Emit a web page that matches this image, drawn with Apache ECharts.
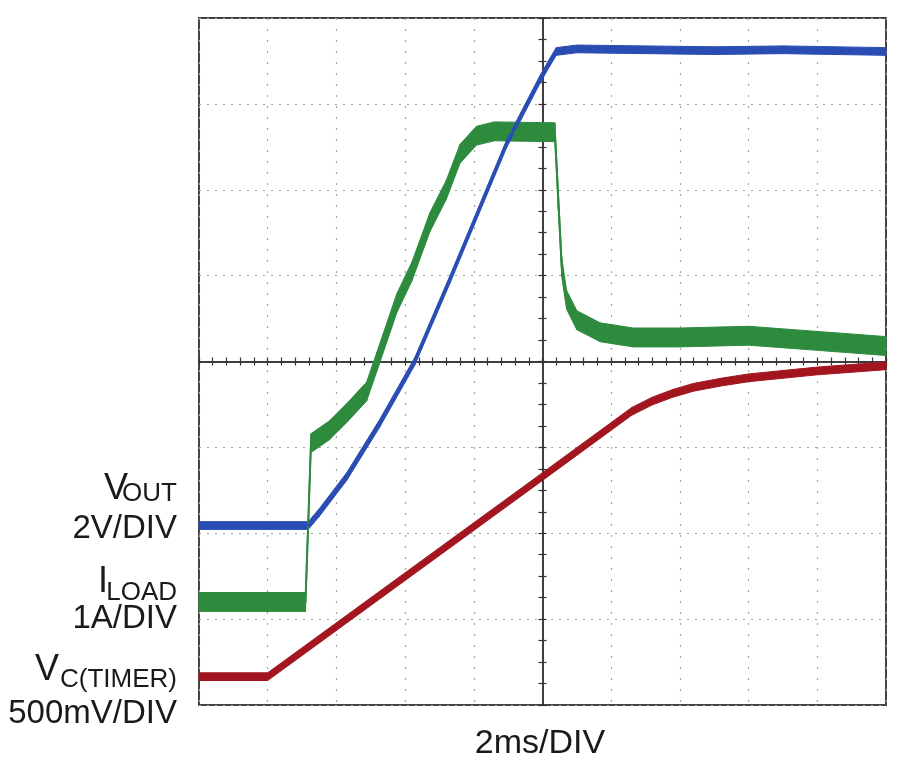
<!DOCTYPE html>
<html>
<head>
<meta charset="utf-8">
<script src="https://cdn.jsdelivr.net/npm/echarts@6/dist/echarts.min.js"></script>
<style>
  html, body { margin: 0; padding: 0; background: #fff; }
  #chart { width: 900px; height: 783px; }
</style>
</head>
<body>
<div id="chart"></div>
<script>
// time in ms (2ms/DIV, trigger at centre), amplitude in divisions from centre
var voutTime = [-10, -6.82, -6.5, -5.7, -4.74, -3.72, -2.7, -1.04, -0.08, 0.22, 0.4, 1.0, 3, 5, 7, 10];
var voutDiv  = [-1.91, -1.91, -1.76, -1.34, -0.72, 0, 0.95, 2.54, 3.28, 3.49, 3.61, 3.64, 3.63, 3.62, 3.63, 3.61];

var iloadTime = [-10, -6.9, -6.74, -6.2, -5.7, -5.12, -4.82, -4.24, -3.8, -3.28, -2.8, -2.4, -1.92, -1.4, 0.36, 0.46, 0.56, 0.7, 1.0, 1.68, 2.64, 4, 6, 8, 10];
var iloadDiv  = [-2.80, -2.80, -0.95, -0.80, -0.60, -0.35, 0.0, 0.68, 1.05, 1.62, 2.0, 2.42, 2.63, 2.68, 2.67, 1.88, 1.10, 0.72, 0.48, 0.34, 0.28, 0.28, 0.30, 0.24, 0.18];

var vcTime = [-10, -8, 0, 2.6, 3.2, 3.8, 4.4, 5.2, 6, 7, 8, 9, 10];
var vcDiv  = [-3.67, -3.67, -1.34, -0.58, -0.46, -0.37, -0.30, -0.24, -0.19, -0.15, -0.11, -0.08, -0.05];

// trace thickness (noise) in divisions, peak to centre
var voutNoise = 0.045;
var iloadNoise = 0.11;
var vcNoise = 0.045;

var BLUE = '#2a4db3';
var GREEN = '#2e8b3e';
var RED = '#a3161f';

function pairs(xs, ys) {
  return xs.map(function (x, i) { return [x, ys[i]]; });
}

// a noisy trace: a band of +-noise around the points, then a thin centre line
function trace(name, xs, ys, noise, color) {
  return [{
    type: 'custom', name: name + ' band', data: pairs(xs, ys), silent: true,
    encode: { x: 0, y: 1 },
    renderItem: function (params, api) {
      var i = params.dataIndex;
      if (i >= xs.length - 1) return null;
      var pts = [
        api.coord([xs[i], ys[i] - noise]),
        api.coord([xs[i + 1], ys[i + 1] - noise]),
        api.coord([xs[i + 1], ys[i + 1] + noise]),
        api.coord([xs[i], ys[i] + noise])
      ];
      return {
        type: 'polygon', shape: { points: pts },
        style: { fill: color, stroke: color, lineWidth: 1 }
      };
    }
  }, {
    type: 'line', name: name, data: pairs(xs, ys), showSymbol: false, silent: true,
    lineStyle: { color: color, width: 2 }
  }];
}

function label(text, x, baseline, size, align) {
  return {
    type: 'text', x: x, y: baseline - size * 0.35,
    style: {
      text: text, fill: '#1a1a1a', align: align || 'right', verticalAlign: 'middle',
      fontSize: size, fontFamily: '"Liberation Sans", Arial, sans-serif'
    }
  };
}

var chart = echarts.init(document.getElementById('chart'));

var centreAxis = function (inside, minor) {
  return {
    axisLine: { show: true, onZero: true, onZeroAxisIndex: 0, lineStyle: { color: '#333', width: 1.5 } },
    axisTick: { show: true, inside: inside, length: 4, lineStyle: { color: '#333', width: 1.2 } },
    minorTick: { show: true, splitNumber: minor, length: 4, lineStyle: { color: '#333', width: 1.2 } },
    axisLabel: { show: false },
    splitLine: { show: false }
  };
};

var xBase = { type: 'value', min: -10, max: 10, interval: 2 };
var yBase = { type: 'value', min: -4, max: 4, interval: 1 };

var option = {
  backgroundColor: '#ffffff',
  animation: false,
  grid: {
    left: 199, top: 18, right: 14, bottom: 78,
    show: true, borderColor: '#444', borderWidth: 2, backgroundColor: 'transparent'
  },
  xAxis: [
    Object.assign({}, xBase, {
      axisLine: { show: false }, axisTick: { show: false }, axisLabel: { show: false },
      splitLine: { show: true, lineStyle: { color: '#a5a5a5', width: 1.2, type: [2, 9] } }
    }),
    Object.assign({}, xBase, centreAxis(true, 5)),
    Object.assign({}, xBase, centreAxis(false, 5))
  ],
  yAxis: [
    Object.assign({}, yBase, {
      axisLine: { show: false }, axisTick: { show: false }, axisLabel: { show: false },
      splitLine: { show: true, lineStyle: { color: '#a5a5a5', width: 1.2, type: [2, 6] } }
    }),
    Object.assign({}, yBase, centreAxis(true, 4)),
    Object.assign({}, yBase, centreAxis(false, 4))
  ],
  graphic: [
    label('V', 128, 502, 36),
    label('OUT', 177, 503, 26),
    label('2V/DIV', 177, 540, 33),
    label('I', 108, 595, 36),
    label('LOAD', 177, 602, 26),
    label('1A/DIV', 177, 630, 33),
    label('V', 59, 683, 36),
    label('C(TIMER)', 177, 689, 26),
    label('500mV/DIV', 177, 725, 33),
    label('2ms/DIV', 540, 756, 34, 'center')
  ],
  series: [].concat(
    trace('VC', vcTime, vcDiv, vcNoise, RED),
    trace('ILOAD', iloadTime, iloadDiv, iloadNoise, GREEN),
    trace('VOUT', voutTime, voutDiv, voutNoise, BLUE)
  )
};

chart.setOption(option);
</script>
</body>
</html>
